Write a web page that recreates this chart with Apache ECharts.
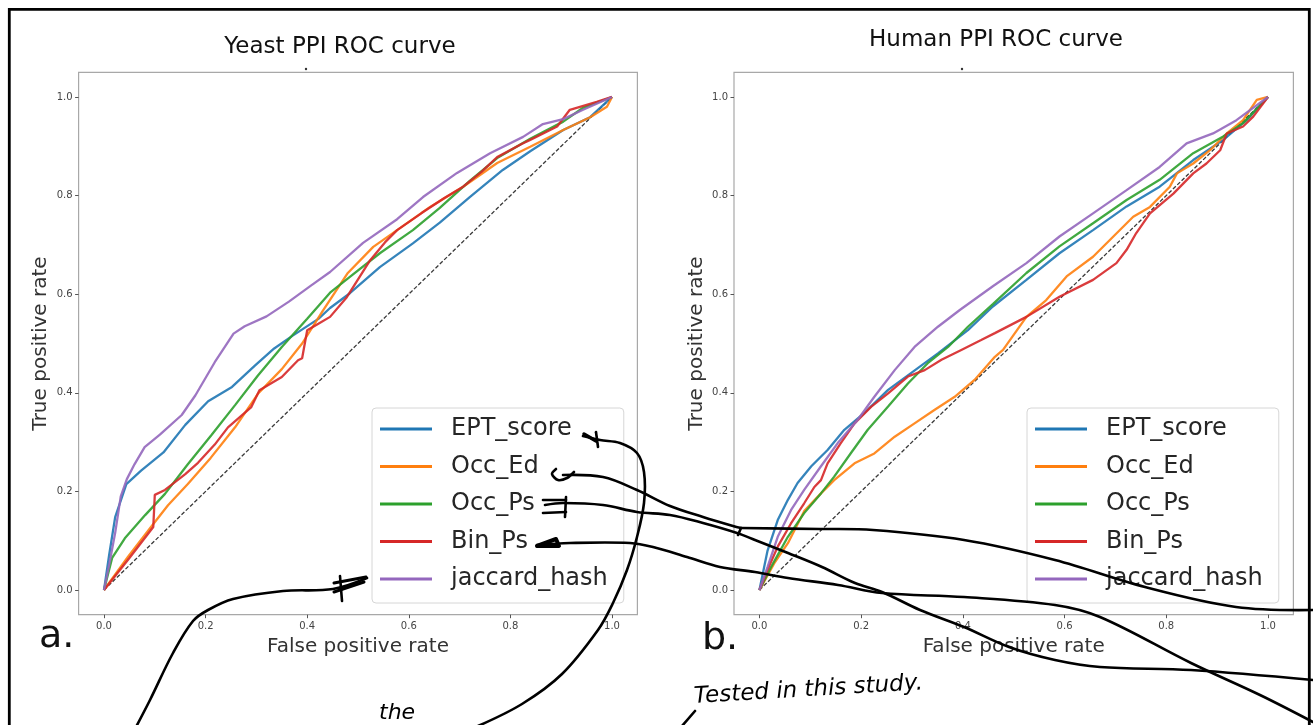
<!DOCTYPE html>
<html>
<head>
<meta charset="utf-8">
<title>PPI ROC curves</title>
<script src="https://cdn.jsdelivr.net/npm/echarts@6/dist/echarts.min.js"></script>
<style>
  html, body { margin: 0; padding: 0; background: #fff; }
  #chart { width: 1313px; height: 725px; }
</style>
</head>
<body>
<div id="chart"></div>
<script>
// tick positions shared by both panels
const ticks = [0, 0.2, 0.4, 0.6, 0.8, 1.0]
const seriesNames = ['EPT_score', 'Occ_Ed', 'Occ_Ps', 'Bin_Ps', 'jaccard_hash']
const colors = ['#1f77b4', '#ff7f0e', '#2ca02c', '#d62728', '#9467bd']

// chance line
const chance = [[0, 0], [1, 1]]

// a. yeast PPI  [false positive rate, true positive rate]
const yeastEPT = [[0, 0], [0.01, 0.07], [0.022, 0.148], [0.044, 0.215], [0.073, 0.242], [0.117, 0.279], [0.16, 0.335], [0.205, 0.383], [0.252, 0.412], [0.297, 0.455], [0.335, 0.49], [0.37, 0.515], [0.422, 0.55], [0.445, 0.572], [0.484, 0.602], [0.543, 0.655], [0.608, 0.703], [0.661, 0.745], [0.72, 0.797], [0.785, 0.852], [0.839, 0.89], [0.904, 0.933], [0.957, 0.959], [1, 1]]
const yeastOccEd = [[0, 0], [0.047, 0.067], [0.094, 0.13], [0.126, 0.172], [0.165, 0.215], [0.21, 0.268], [0.258, 0.33], [0.303, 0.398], [0.35, 0.448], [0.39, 0.5], [0.43, 0.565], [0.48, 0.643], [0.53, 0.696], [0.577, 0.73], [0.642, 0.777], [0.707, 0.818], [0.774, 0.866], [0.839, 0.899], [0.904, 0.933], [0.957, 0.959], [0.99, 0.98], [1, 1]]
const yeastOccPs = [[0, 0], [0.016, 0.065], [0.041, 0.105], [0.081, 0.152], [0.12, 0.195], [0.165, 0.255], [0.212, 0.315], [0.258, 0.375], [0.303, 0.435], [0.35, 0.493], [0.4, 0.55], [0.445, 0.603], [0.484, 0.635], [0.543, 0.683], [0.608, 0.73], [0.661, 0.775], [0.72, 0.83], [0.774, 0.876], [0.839, 0.915], [0.904, 0.95], [0.943, 0.978], [1, 1]]
const yeastBinPs = [[0, 0], [0.05, 0.065], [0.097, 0.128], [0.1, 0.193], [0.12, 0.203], [0.16, 0.235], [0.185, 0.258], [0.218, 0.295], [0.244, 0.33], [0.29, 0.371], [0.306, 0.405], [0.35, 0.432], [0.382, 0.466], [0.39, 0.47], [0.4, 0.527], [0.422, 0.54], [0.445, 0.554], [0.478, 0.594], [0.524, 0.669], [0.553, 0.705], [0.577, 0.73], [0.626, 0.765], [0.67, 0.795], [0.707, 0.818], [0.743, 0.848], [0.774, 0.878], [0.823, 0.905], [0.839, 0.913], [0.892, 0.94], [0.917, 0.974], [0.97, 0.99], [1, 1]]
const yeastJaccard = [[0, 0], [0.01, 0.05], [0.022, 0.116], [0.033, 0.19], [0.045, 0.225], [0.06, 0.255], [0.08, 0.29], [0.11, 0.315], [0.153, 0.355], [0.18, 0.395], [0.218, 0.462], [0.255, 0.52], [0.277, 0.535], [0.32, 0.555], [0.364, 0.585], [0.408, 0.618], [0.445, 0.645], [0.51, 0.704], [0.577, 0.752], [0.628, 0.797], [0.695, 0.846], [0.76, 0.886], [0.825, 0.919], [0.864, 0.945], [0.904, 0.955], [0.943, 0.974], [1, 1]]

// b. human PPI
const humanEPT = [[0, 0], [0.016, 0.08], [0.036, 0.142], [0.056, 0.183], [0.075, 0.217], [0.102, 0.251], [0.134, 0.284], [0.167, 0.325], [0.207, 0.36], [0.253, 0.406], [0.298, 0.44], [0.351, 0.48], [0.41, 0.527], [0.459, 0.575], [0.525, 0.629], [0.59, 0.683], [0.656, 0.73], [0.722, 0.778], [0.787, 0.818], [0.853, 0.872], [0.912, 0.913], [0.958, 0.953], [1, 1]]
const humanOccEd = [[0, 0], [0.029, 0.054], [0.056, 0.095], [0.088, 0.16], [0.121, 0.196], [0.147, 0.223], [0.187, 0.257], [0.226, 0.277], [0.266, 0.311], [0.305, 0.338], [0.344, 0.365], [0.384, 0.392], [0.423, 0.426], [0.463, 0.473], [0.479, 0.487], [0.525, 0.554], [0.564, 0.588], [0.604, 0.636], [0.656, 0.676], [0.696, 0.717], [0.735, 0.757], [0.768, 0.777], [0.807, 0.818], [0.821, 0.845], [0.853, 0.865], [0.886, 0.892], [0.919, 0.926], [0.951, 0.953], [0.978, 0.994], [1, 1]]
const humanOccPs = [[0, 0], [0.023, 0.047], [0.056, 0.108], [0.088, 0.156], [0.121, 0.196], [0.147, 0.23], [0.18, 0.278], [0.213, 0.325], [0.253, 0.372], [0.292, 0.419], [0.331, 0.46], [0.371, 0.493], [0.41, 0.534], [0.459, 0.58], [0.525, 0.643], [0.59, 0.697], [0.656, 0.744], [0.722, 0.791], [0.787, 0.832], [0.853, 0.886], [0.912, 0.92], [0.951, 0.947], [1, 1]]
const humanBinPs = [[0, 0], [0.016, 0.041], [0.036, 0.088], [0.062, 0.135], [0.088, 0.176], [0.108, 0.209], [0.121, 0.223], [0.134, 0.257], [0.16, 0.298], [0.187, 0.338], [0.22, 0.372], [0.253, 0.399], [0.292, 0.433], [0.325, 0.446], [0.358, 0.467], [0.397, 0.487], [0.436, 0.507], [0.463, 0.521], [0.525, 0.554], [0.59, 0.595], [0.656, 0.629], [0.702, 0.663], [0.722, 0.69], [0.741, 0.724], [0.768, 0.764], [0.814, 0.804], [0.853, 0.845], [0.879, 0.865], [0.906, 0.892], [0.919, 0.926], [0.951, 0.94], [0.971, 0.96], [1, 1]]
const humanJaccard = [[0, 0], [0.016, 0.047], [0.036, 0.108], [0.062, 0.162], [0.088, 0.203], [0.121, 0.251], [0.154, 0.298], [0.193, 0.345], [0.226, 0.392], [0.266, 0.446], [0.305, 0.493], [0.351, 0.534], [0.394, 0.568], [0.459, 0.616], [0.525, 0.663], [0.59, 0.717], [0.656, 0.764], [0.722, 0.811], [0.787, 0.858], [0.84, 0.906], [0.892, 0.926], [0.938, 0.953], [1, 1]]

const yeastData = [yeastEPT, yeastOccEd, yeastOccPs, yeastBinPs, yeastJaccard]
const humanData = [humanEPT, humanOccEd, humanOccPs, humanBinPs, humanJaccard]

const FONT = 'DejaVu Sans'

function xAxisFor (i) {
  return {
    type: 'value',
    gridIndex: i,
    min: -0.05,
    max: 1.05,
    name: 'False positive rate',
    nameLocation: 'middle',
    nameGap: 19,
    nameTextStyle: { fontSize: 20, color: '#333', fontFamily: FONT },
    axisLine: { show: false, onZero: false },
    splitLine: { show: false },
    axisTick: { show: true, customValues: ticks, length: 3.5, lineStyle: { color: '#555' } },
    axisLabel: { customValues: ticks, formatter: v => v.toFixed(1), fontSize: 10, color: '#444', margin: 7, fontFamily: FONT }
  }
}

function yAxisFor (i, gap) {
  return {
    type: 'value',
    gridIndex: i,
    min: -0.05,
    max: 1.05,
    name: 'True positive rate',
    nameLocation: 'middle',
    nameGap: gap,
    nameTextStyle: { fontSize: 20, color: '#333', fontFamily: FONT },
    axisLine: { show: false, onZero: false },
    splitLine: { show: false },
    axisTick: { show: true, customValues: ticks, length: 3.5, lineStyle: { color: '#555' } },
    axisLabel: { customValues: ticks, formatter: v => v.toFixed(1), fontSize: 10, color: '#444', margin: 6, fontFamily: FONT }
  }
}

function legendFor (left) {
  return {
    data: seriesNames,
    orient: 'vertical',
    left: left,
    top: 408,
    padding: [9, 16, 12, 8],
    itemGap: 13.5,
    itemWidth: 52,
    itemHeight: 3,
    icon: 'rect',
    backgroundColor: 'rgba(255,255,255,0.8)',
    borderColor: '#d6d6d6',
    borderWidth: 1,
    borderRadius: 4,
    selectedMode: false,
    textStyle: { fontSize: 24, lineHeight: 24, color: '#262626', fontFamily: FONT, padding: [0, 0, 0, 14] }
  }
}

const series = []
;[yeastData, humanData].forEach((set, gi) => {
  series.push({
    name: 'chance',
    type: 'line',
    xAxisIndex: gi,
    yAxisIndex: gi,
    data: chance,
    symbol: 'none',
    silent: true,
    lineStyle: { color: '#3a3a3a', width: 1.3, type: [4, 2] },
    z: 1
  })
  set.forEach((d, i) => {
    series.push({
      name: seriesNames[i],
      type: 'line',
      xAxisIndex: gi,
      yAxisIndex: gi,
      data: d,
      symbol: 'none',
      lineStyle: { color: colors[i], width: 2.3, opacity: 0.9 },
      itemStyle: { color: colors[i] },
      z: 2 + i
    })
  })
})

// hand drawn annotation strokes on the screenshot
const ink = { stroke: '#000', lineWidth: 2.6, fill: null, lineCap: 'round', lineJoin: 'round' }
function stroke (points, smooth, width) {
  return {
    type: 'polyline',
    shape: { points, smooth: smooth === undefined ? 0.35 : smooth },
    style: Object.assign({}, ink, width ? { lineWidth: width } : {}),
    z: 100
  }
}

const annotations = [
  // EPT_score loop
  stroke([[583, 436], [600, 440], [620, 443], [637, 453], [644, 472], [644, 503], [637, 537], [627, 570], [613, 603], [598, 630], [562, 674], [522, 704], [478, 726]]),
  stroke([[596, 432], [598, 447]], 0),
  stroke([[584, 434], [596, 441]], 0, 3.5),
  // jaccard_hash
  stroke([[136, 727], [150, 700], [173, 653], [193, 621], [208, 610], [233, 599], [283, 591], [333, 589], [367, 578]]),
  stroke([[334, 583], [366, 577]], 0, 3),
  stroke([[334, 592], [364, 582]], 0, 3),
  stroke([[340, 576], [342, 601]], 0),
  // Occ_Ed
  stroke([[563, 475], [603, 477], [637, 490], [670, 506], [703, 517], [733, 526], [741, 528]]),
  stroke([[556, 469], [552, 474], [558, 480], [567, 478], [574, 472]], 0.3),
  // line coming from the right edge to panel b
  stroke([[1313, 610], [1236, 607], [1145, 587], [1055, 560], [964, 540], [873, 530], [820, 529], [741, 528]]),
  stroke([[741, 528], [738, 535]], 0),
  // Occ_Ps
  stroke([[545, 505], [563, 503], [603, 505], [637, 512], [670, 515], [703, 523], [737, 533], [755, 540], [788, 553], [822, 567], [855, 583], [882, 592], [920, 610], [964, 627], [1009, 647], [1055, 660], [1100, 667], [1191, 670], [1313, 680]]),
  stroke([[543, 500], [566, 500]], 0),
  stroke([[543, 513], [566, 512]], 0),
  stroke([[566, 497], [565, 517]], 0),
  // Bin_Ps
  stroke([[537, 545], [570, 543], [630, 543], [653, 547], [687, 557], [720, 567], [755, 572], [788, 578], [838, 585], [882, 593], [964, 597], [1055, 605], [1100, 617], [1191, 663], [1260, 695], [1313, 722]]),
  stroke([[537, 546], [556, 539], [559, 546], [537, 546]], 0, 4),
  // slash under the note
  stroke([[682, 726], [695, 711]], 0),
  {
    type: 'text', x: 379, y: 713, z: 100,
    style: { text: 'the', font: 'italic 22px "DejaVu Sans"', fill: '#000', verticalAlign: 'middle' }
  },
  {
    type: 'text', x: 694, y: 697, rotation: 0.06, z: 100,
    style: { text: 'Tested in this study.', font: 'italic 23px "DejaVu Sans"', fill: '#000', verticalAlign: 'middle' }
  }
]

const option = {
  animation: false,
  backgroundColor: '#fff',
  textStyle: { fontFamily: FONT },
  color: colors,
  title: [
    { text: 'Yeast PPI ROC curve', left: 335, top: 31, textAlign: 'center', textStyle: { fontSize: 23, fontWeight: 'normal', color: '#111', fontFamily: FONT } },
    { text: 'Human PPI ROC curve', left: 991, top: 24, textAlign: 'center', textStyle: { fontSize: 23, fontWeight: 'normal', color: '#111', fontFamily: FONT } }
  ],
  legend: [legendFor(372), legendFor(1027)],
  grid: [
    { left: 78.6, top: 72.3, width: 558.8, height: 542.4, show: true, borderColor: '#a8a8a8', borderWidth: 1.2, backgroundColor: 'transparent' },
    { left: 734, top: 72.3, width: 559.4, height: 542.4, show: true, borderColor: '#a8a8a8', borderWidth: 1.2, backgroundColor: 'transparent' }
  ],
  xAxis: [xAxisFor(0), xAxisFor(1)],
  yAxis: [yAxisFor(0, 28), yAxisFor(1, 27)],
  series,
  graphic: [
    // screenshot frame
    { type: 'rect', shape: { x: 9.3, y: 9.3, width: 1300, height: 800 }, style: { fill: null, stroke: '#000', lineWidth: 2.8 }, z: 90 },
    { type: 'circle', shape: { cx: 306, cy: 69, r: 1.2 }, style: { fill: '#333' } },
    { type: 'circle', shape: { cx: 962, cy: 69, r: 1.2 }, style: { fill: '#333' } },
    { type: 'text', x: 39, y: 637, style: { text: 'a.', font: '38px "DejaVu Sans"', fill: '#111', verticalAlign: 'middle' } },
    { type: 'text', x: 702, y: 639, style: { text: 'b.', font: '38px "DejaVu Sans"', fill: '#111', verticalAlign: 'middle' } }
  ].concat(annotations)
}

const chart = echarts.init(document.getElementById('chart'), null, { renderer: 'canvas' })
chart.setOption(option)
</script>
</body>
</html>
